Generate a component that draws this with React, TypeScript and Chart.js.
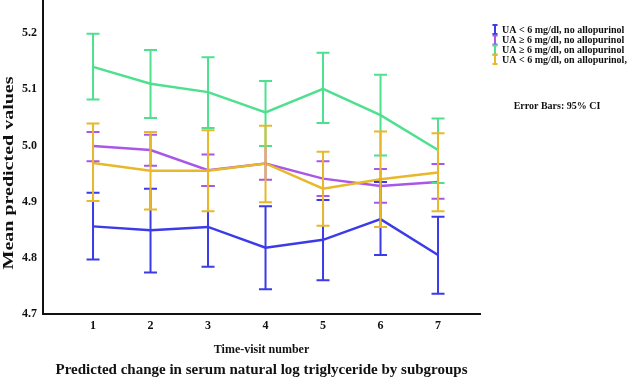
import React, { useEffect, useRef } from "react";
import { Chart, registerables } from "chart.js";

Chart.register(...registerables);

const visits = [1, 2, 3, 4, 5, 6, 7];
const yTicks = [4.7, 4.8, 4.9, 5.0, 5.1, 5.2];

const seriesNames = [
  "UA < 6 mg/dl, no allopurinol",
  "UA \u2265 6 mg/dl, no allopurinol",
  "UA \u2265 6 mg/dl, on allopurinol",
  "UA < 6 mg/dl, on allopurinol,",
];
const seriesColors = ["#3b3be8", "#a957e8", "#4fe08f", "#e8b82a"];

const blueMean = [4.856, 4.849, 4.855, 4.818, 4.832, 4.869, 4.805];
const blueLow = [4.797, 4.774, 4.784, 4.744, 4.76, 4.805, 4.736];
const blueHigh = [4.916, 4.923, 4.928, 4.892, 4.903, 4.935, 4.873];

const purpleMean = [4.999, 4.992, 4.956, 4.968, 4.941, 4.928, 4.935];
const purpleLow = [4.972, 4.964, 4.928, 4.939, 4.91, 4.898, 4.905];
const purpleHigh = [5.024, 5.019, 4.984, 4.999, 4.972, 4.958, 4.967];

const greenMean = [5.14, 5.11, 5.095, 5.059, 5.101, 5.054, 4.992];
const greenLow = [5.082, 5.049, 5.031, 4.999, 5.04, 4.982, 4.933];
const greenHigh = [5.199, 5.17, 5.157, 5.115, 5.165, 5.126, 5.048];

const yellowMean = [4.969, 4.955, 4.955, 4.968, 4.923, 4.94, 4.952];
const yellowLow = [4.901, 4.886, 4.883, 4.899, 4.857, 4.855, 4.883];
const yellowHigh = [5.039, 5.024, 5.027, 5.035, 4.989, 5.025, 5.022];

const means = [blueMean, purpleMean, greenMean, yellowMean];
const lows = [blueLow, purpleLow, greenLow, yellowLow];
const highs = [blueHigh, purpleHigh, greenHigh, yellowHigh];

const yTitle = "Mean predicted values";
const xTitle = "Time-visit number";
const mainTitle = "Predicted change in serum natural log triglyceride by subgroups";
const errorNote = "Error Bars: 95% CI";

const FONT = "'Liberation Serif', 'Times New Roman', serif";

const errorBarPlugin = {
  id: "errorBars",
  afterDatasetsDraw(chart: any) {
    const { ctx, scales } = chart;
    const xs = scales.x;
    const ys = scales.y;
    ctx.save();
    ctx.lineWidth = 2;
    ctx.lineCap = "butt";
    for (let s = 0; s < means.length; s++) {
      ctx.strokeStyle = seriesColors[s];
      for (let i = 0; i < visits.length; i++) {
        const x = xs.getPixelForValue(visits[i]);
        const yl = ys.getPixelForValue(lows[s][i]);
        const yh = ys.getPixelForValue(highs[s][i]);
        ctx.beginPath();
        ctx.moveTo(x, yl);
        ctx.lineTo(x, yh);
        ctx.moveTo(x - 6.5, yl);
        ctx.lineTo(x + 6.5, yl);
        ctx.moveTo(x - 6.5, yh);
        ctx.lineTo(x + 6.5, yh);
        ctx.stroke();
      }
    }
    ctx.restore();
  },
};

const textPlugin = {
  id: "extraText",
  afterDraw(chart: any) {
    const { ctx, chartArea } = chart;
    ctx.save();
    // y axis title (stretched along its length like the reference)
    ctx.fillStyle = "#111";
    ctx.font = `bold 15px ${FONT}`;
    ctx.textAlign = "center";
    ctx.textBaseline = "middle";
    const w = ctx.measureText(yTitle).width;
    ctx.translate(9, 173);
    ctx.rotate(-Math.PI / 2);
    ctx.scale(193 / w, 1);
    ctx.fillText(yTitle, 0, 0);
    ctx.restore();

    // legend
    ctx.save();
    ctx.font = `bold 10px ${FONT}`;
    ctx.textAlign = "left";
    ctx.textBaseline = "middle";
    const rowY = [29.5, 40, 50, 59.5];
    const mx = chartArea.right + 15;
    for (let s = 0; s < seriesNames.length; s++) {
      const y = rowY[s];
      ctx.strokeStyle = seriesColors[s];
      ctx.lineWidth = 2;
      ctx.beginPath();
      ctx.moveTo(mx, y - 5);
      ctx.lineTo(mx, y + 5);
      ctx.moveTo(mx - 2.5, y - 4.5);
      ctx.lineTo(mx + 2.5, y - 4.5);
      ctx.moveTo(mx - 2.5, y + 4.5);
      ctx.lineTo(mx + 2.5, y + 4.5);
      ctx.stroke();
      ctx.fillStyle = "#111";
      ctx.fillText(seriesNames[s], mx + 7, y + 0.5);
    }
    ctx.textAlign = "center";
    ctx.fillText(errorNote, 557, 106);
    ctx.restore();
  },
};

export default function App() {
  const ref = useRef<HTMLCanvasElement | null>(null);

  useEffect(() => {
    if (!ref.current) return;
    const order = [3, 2, 1, 0];
    const chart = new Chart(ref.current, {
      type: "line",
      data: {
        datasets: seriesNames.map((name, s) => ({
          label: name,
          data: visits.map((v, i) => ({ x: v, y: means[s][i] })),
          borderColor: seriesColors[s],
          backgroundColor: seriesColors[s],
          borderWidth: 2.5,
          pointRadius: 0,
          tension: 0,
          fill: false,
          order: order[s],
        })),
      },
      options: {
        responsive: false,
        animation: false,
        devicePixelRatio: 1,
        layout: { padding: { left: 0, top: 0, right: 150, bottom: 0 } },
        plugins: {
          legend: { display: false },
          tooltip: { enabled: false },
          title: {
            display: true,
            text: mainTitle,
            position: "bottom",
            fullSize: false,
            color: "#111",
            font: { family: FONT, size: 15, weight: "bold", lineHeight: 1.2 },
            padding: { top: 2, bottom: 2 },
          },
        },
        scales: {
          x: {
            type: "linear",
            min: 0.13,
            max: 7.73,
            grid: { display: false, drawTicks: false },
            border: { display: true, color: "#111", width: 2 },
            afterBuildTicks: (scale: any) => {
              scale.ticks = visits.map((v) => ({ value: v }));
            },
            afterFit: (scale: any) => {
              scale.height = 45;
            },
            ticks: {
              color: "#111",
              padding: 5,
              font: { family: FONT, size: 12, weight: "bold" },
              callback: (v: any) => String(v),
            },
            title: {
              display: true,
              text: xTitle,
              color: "#111",
              font: { family: FONT, size: 12, weight: "bold", lineHeight: 1.2 },
              padding: { top: 4, bottom: 2 },
            },
          },
          y: {
            type: "linear",
            min: 4.7,
            max: 5.259,
            grid: { display: false, drawTicks: false },
            border: { display: true, color: "#111", width: 2 },
            afterBuildTicks: (scale: any) => {
              scale.ticks = yTicks.map((v) => ({ value: v }));
            },
            afterFit: (scale: any) => {
              scale.width = 43;
              scale.paddingTop = 0;
              scale.paddingBottom = 0;
            },
            ticks: {
              color: "#111",
              padding: 6,
              font: { family: FONT, size: 12, weight: "bold" },
              callback: (v: any) => Number(v).toFixed(1),
            },
          },
        },
      },
      plugins: [errorBarPlugin, textPlugin],
    });
    return () => chart.destroy();
  }, []);

  return (
    <div style={{ position: "absolute", left: 0, top: 0, width: 630, height: 381, background: "#fff" }}>
      <canvas ref={ref} width={630} height={381} style={{ display: "block" }} />
    </div>
  );
}
